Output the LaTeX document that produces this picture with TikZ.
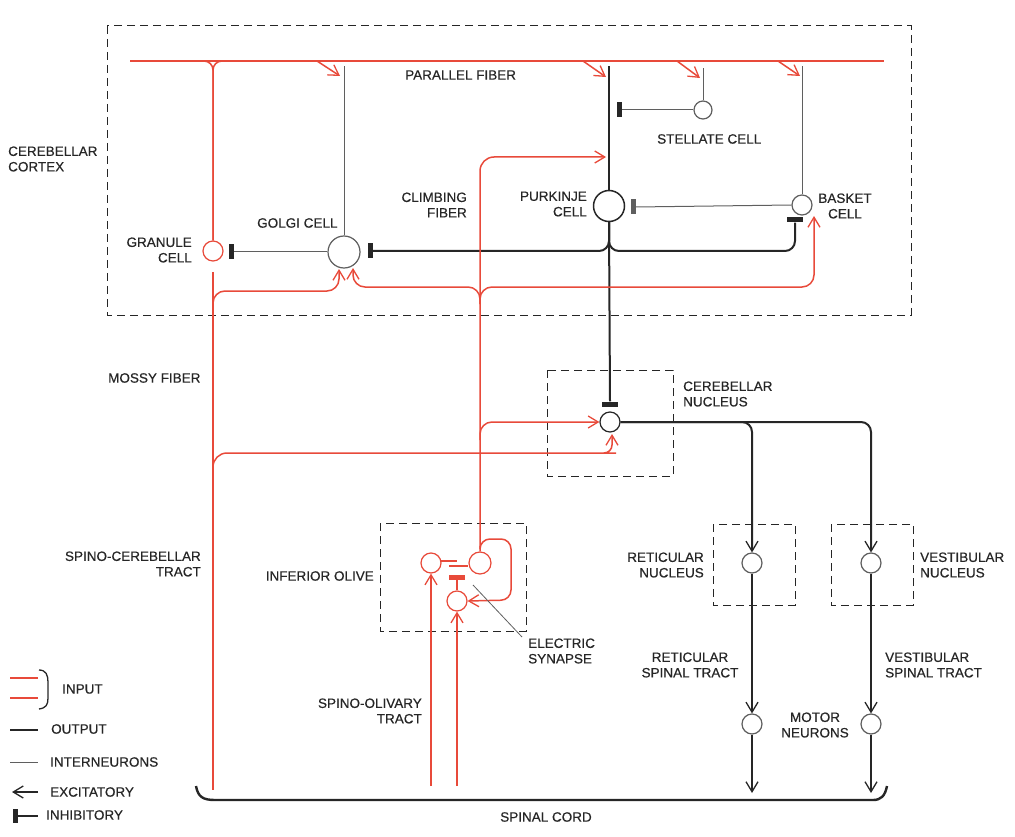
\documentclass[tikz,border=0pt]{standalone}
\usepackage{fontspec}
\setmainfont{Liberation Sans}
\newfontfamily\lblfont{Liberation Sans}[FakeBold=0.5]
\usetikzlibrary{arrows.meta}
\definecolor{inred}{RGB}{232,74,58}
\definecolor{outblk}{RGB}{38,38,38}
\definecolor{intgray}{RGB}{95,95,95}
\begin{document}
\begin{tikzpicture}[x=1pt,y=-1pt,
  input/.style={draw=inred,line width=1.5pt},
  output/.style={draw=outblk,line width=2pt},
  inter/.style={draw=intgray,line width=1pt},
  exc/.style={-{Straight Barb[length=10pt,width=12pt,line width=1.3pt]}},
  cellc/.style={circle,draw=outblk,line width=1.2pt,fill=white,inner sep=0pt,minimum size=20pt},
  redcell/.style={cellc,draw=inred},
  graycell/.style={cellc,draw=intgray},
  barv/.style={fill=outblk,inner sep=0pt,minimum width=5pt,minimum height=15pt},
  barh/.style={fill=outblk,inner sep=0pt,minimum width=16pt,minimum height=5pt},
  region/.style={draw=outblk,line width=1pt,dash pattern=on 8pt off 5pt},
  lbl/.style={font=\lblfont\fontsize{13.5}{15.5}\selectfont,text=outblk,inner sep=0pt},
]
\useasboundingbox (0,0) rectangle (1015,837);

% ---------- dashed regions ----------
\draw[region] (107,26) rectangle (911,315);
\draw[region] (547,370) rectangle (673,476);
\draw[region] (380,523) rectangle (526,631);
\draw[region] (713,524) rectangle (795,605);
\draw[region] (831,524) rectangle (913,605);

% ---------- cells ----------
\node[redcell]                     (gran)  at (213,251) {};
\node[graycell,minimum size=32pt]  (golgi) at (344,252) {};
\node[cellc,minimum size=31pt,line width=1.5pt] (purk) at (609,206) {};
\node[graycell,minimum size=18pt]  (stell) at (703,110) {};
\node[graycell]                    (bask)  at (802,205) {};
\node[cellc]                       (nuc)   at (610,422) {};
\node[redcell]                     (oliveL) at (431,563) {};
\node[redcell,minimum size=22pt]   (oliveR) at (480,563) {};
\node[redcell]                     (oliveB) at (457,601) {};
\node[graycell]                    (retic) at (752,563) {};
\node[graycell]                    (vest)  at (871,563) {};
\node[graycell]                    (motR)  at (752,724) {};
\node[graycell]                    (motV)  at (871,724) {};

% ---------- inhibitory terminals ----------
\node[barv]                 (gbar)  at (231,252) {};
\node[barv]                 (golbar) at (370,251) {};
\node[barv]                 (stbar) at (619,110) {};
\node[barv,fill=intgray]    (bkbar) at (633,207) {};
\node[barh]                 (basbar) at (795,220) {};
\node[barh]                 (nucbar) at (610,404) {};
\node[barh,fill=inred]      (obar)  at (457,577) {};

% ---------- named fibre points ----------
\coordinate (pfL) at (130,61);
\coordinate (pfR) at (884,61);
\coordinate (cfTip) at (606,157);
\coordinate (mfTop) at (213,272);
\coordinate (mfBot) at (213,790);
\coordinate (soA) at (431,786);
\coordinate (soB) at (457,786);

% ---------- parallel fibre and granule cell ----------
\draw[input] (pfL) -- (pfR);
\draw[input,rounded corners=9pt] (gran.north) -- (213,61) -- (195,61);
\draw[input,rounded corners=9pt] (gran.north) -- (213,61) -- (231,61);
\draw[input,exc] (317,61) -- (340,76);
\draw[input,exc] (583,61) -- (606,77);
\draw[input,exc] (677,61) -- (700,78);
\draw[input,exc] (778,61) -- (800,76);

% ---------- dendrites ----------
\draw[output] (purk.north) -- (609,66);
\draw[inter] (golgi.north) -- (344,66);
\draw[inter] (stell.north) -- (703,68);
\draw[inter] (bask.north) -- (802,66);

% ---------- interneuron inhibition ----------
\draw[inter] (golgi.west) -- (gbar.east);
\draw[inter] (stell.west) -- (stbar.east);
\draw[inter] (bask.west) -- (bkbar.east);

% ---------- Purkinje axon and collaterals ----------
\draw[output] (purk.south) -- (nucbar.north);
\draw[output,rounded corners=10pt] (purk.south) -- (609,251) -- (golbar.east);
\draw[output,rounded corners=10pt] (purk.south) -- (609,251) -- (795,251) -- (basbar.south);

% ---------- mossy fibre ----------
\draw[input] (mfTop) -- (mfBot);
\draw[input,exc,rounded corners=12pt] (213,306) -- (213,291) -- (339,291) -- (339,269);
\draw[input,exc,rounded corners=14pt] (213,472) -- (213,453) -- (602,453) [rounded corners=8pt] -- (612,453) -- (612,434);

% ---------- climbing fibre ----------
\draw[input,exc,rounded corners=14pt] (oliveR.north) -- (480,157) -- (cfTip);
\draw[input,exc,rounded corners=12pt] (480,304) -- (480,287) -- (353,287) -- (353,268);
\draw[input,exc,rounded corners=12pt] (480,304) -- (480,287) -- (814,287) -- (814,216);
\draw[input,exc,rounded corners=12pt] (480,440) -- (480,422) -- (nuc.west);

% ---------- inferior olive ----------
\draw[input] (441,561) -- (457,561);
\draw[input] (449,566) -- (oliveR.west |- 0,566);
\draw[input] (obar) -- (oliveB.north);
\draw[input,exc,rounded corners=10pt] (480,546) -- (480,539) -- (511,539) -- (511,600) -- (oliveB.east);
\draw[input,exc] (soA) -- (oliveL.south);
\draw[input,exc] (soB) -- (oliveB.south);
\draw[intgray,line width=0.8pt] (473,585) -- (522,637);

% ---------- cerebellar nucleus output ----------
\draw[output,exc,rounded corners=10pt] (nuc.east) -- (752,422) -- (retic.north);
\draw[output,exc,rounded corners=10pt] (nuc.east) -- (871,422) -- (vest.north);
\draw[output,exc] (retic.south) -- (motR.north);
\draw[output,exc] (vest.south) -- (motV.north);
\coordinate (scR) at (752,793);
\coordinate (scV) at (871,793);
\draw[output,exc] (motR.south) -- (scR);
\draw[output,exc] (motV.south) -- (scV);

% ---------- spinal cord ----------
\draw[outblk,line width=2.4pt] (196,786) .. controls (198,797) and (203,800) .. (215,800)
  -- (873,800) .. controls (881,800) and (885,796) .. (887,786);

% ---------- labels ----------
\node[lbl,anchor=west,align=left] at (8,159) {CEREBELLAR\\CORTEX};
\node[lbl,anchor=west] at (405,75) {PARALLEL FIBER};
\node[lbl,anchor=west] at (657,139) {STELLATE CELL};
\node[lbl,anchor=east,align=right] at (467,205) {CLIMBING\\FIBER};
\node[lbl,anchor=east,align=right] at (587,204) {PURKINJE\\CELL};
\node[lbl,align=center] at (845,206) {BASKET\\CELL};
\node[lbl,anchor=west] at (257,223) {GOLGI CELL};
\node[lbl,anchor=east,align=right] at (192,250) {GRANULE\\CELL};
\node[lbl,anchor=west] at (108,378) {MOSSY FIBER};
\node[lbl,anchor=west,align=left] at (683,394) {CEREBELLAR\\NUCLEUS};
\node[lbl,anchor=east,align=right] at (201,564) {SPINO-CEREBELLAR\\TRACT};
\node[lbl,anchor=east] at (374,576) {INFERIOR OLIVE};
\node[lbl,anchor=east,align=right] at (704,565) {RETICULAR\\NUCLEUS};
\node[lbl,anchor=west,align=left] at (920,565) {VESTIBULAR\\NUCLEUS};
\node[lbl,align=center] at (690,665) {RETICULAR\\SPINAL TRACT};
\node[lbl,anchor=west,align=left] at (885,665) {VESTIBULAR\\SPINAL TRACT};
\node[lbl,align=center] at (815,725) {MOTOR\\NEURONS};
\node[lbl,anchor=east,align=right] at (422,711) {SPINO-OLIVARY\\TRACT};
\node[lbl,anchor=west,align=left] at (528,651) {ELECTRIC\\SYNAPSE};
\node[lbl] at (546,817) {SPINAL CORD};

% ---------- legend ----------
\draw[input] (10,678) -- (38,678);
\draw[input] (10,698) -- (38,698);
\draw[outblk,line width=1.3pt] (39,670) .. controls (46,670) and (48,675) .. (48,682)
  -- (48,698) .. controls (48,705) and (46,708) .. (39,709);
\node[lbl,anchor=west] at (62,689) {INPUT};
\draw[output] (10,730) -- (38,730);
\node[lbl,anchor=west] at (51,729) {OUTPUT};
\draw[inter] (10,762) -- (38,762);
\node[lbl,anchor=west] at (50,762) {INTERNEURONS};
\draw[output,exc,line width=1.5pt] (38,792) -- (12,792);
\node[lbl,anchor=west] at (50,792) {EXCITATORY};
\node[barv,minimum height=14pt] (legbar) at (15,816) {};
\draw[output,line width=1.5pt] (legbar.east) -- (38,816);
\node[lbl,anchor=west] at (46,815) {INHIBITORY};
\end{tikzpicture}
\end{document}
